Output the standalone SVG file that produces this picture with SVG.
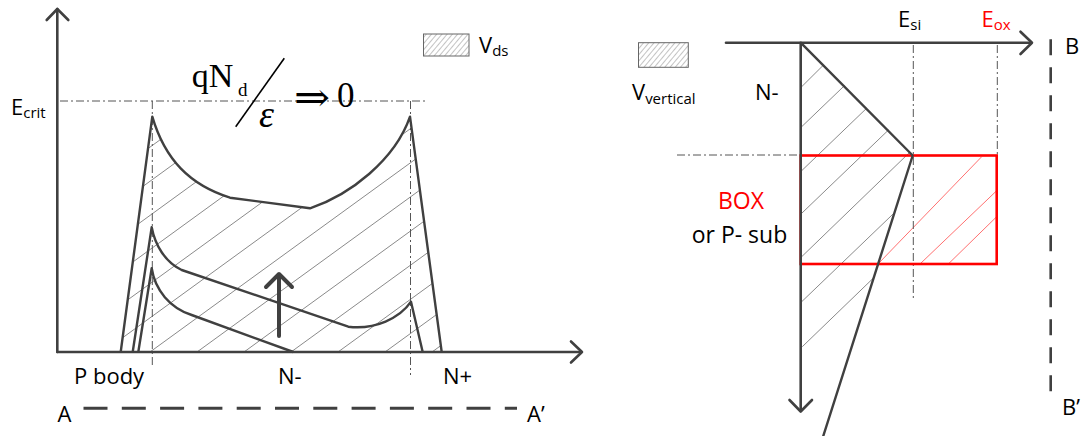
<svg xmlns="http://www.w3.org/2000/svg" width="1084" height="436" viewBox="0 0 1084 436">
<style>
.ax{fill:none;stroke:#404040;stroke-width:2.6;stroke-linecap:round;stroke-linejoin:round}
.cv{fill:none;stroke:#404040;stroke-width:2.4;stroke-linejoin:round}
.dd{fill:none;stroke:#555;stroke-width:1;stroke-dasharray:8 3 2 3}
.ht{stroke:#8a8a8a;stroke-width:1}
.hr{stroke:#ff7070;stroke-width:1}
.t{font-family:"Open Sans","Liberation Sans",sans-serif;fill:#000}
.s{font-size:15px}
.m{font-family:"Liberation Serif","DejaVu Serif",serif;fill:#000}
</style>
<defs>
<pattern id="lg" patternUnits="userSpaceOnUse" width="4" height="4" patternTransform="rotate(40)">
<line x1="0" y1="0" x2="0" y2="4" stroke="#888" stroke-width="1"/>
</pattern>
<clipPath id="clipL">
<path d="M120.7,352 L152.3,116.7 C165,160 190,185 230,197.7 L310,208.3 C350,195 395,160 410,116.7 L441.7,352 Z"/>
</clipPath>
</defs>

<g id="left-panel">
<g id="left-hatch" clip-path="url(#clipL)">
<line class="ht" x1="-179" y1="352" x2="221" y2="61.4"/>
<line class="ht" x1="-132" y1="352" x2="268" y2="61.4"/>
<line class="ht" x1="-85" y1="352" x2="315" y2="61.4"/>
<line class="ht" x1="-38" y1="352" x2="362" y2="61.4"/>
<line class="ht" x1="9" y1="352" x2="409" y2="61.4"/>
<line class="ht" x1="56" y1="352" x2="456" y2="61.4"/>
<line class="ht" x1="103" y1="352" x2="503" y2="61.4"/>
<line class="ht" x1="150" y1="352" x2="550" y2="61.4"/>
<line class="ht" x1="197" y1="352" x2="597" y2="61.4"/>
<line class="ht" x1="244" y1="352" x2="644" y2="61.4"/>
<line class="ht" x1="291" y1="352" x2="691" y2="61.4"/>
<line class="ht" x1="338" y1="352" x2="738" y2="61.4"/>
<line class="ht" x1="385" y1="352" x2="785" y2="61.4"/>
<line class="ht" x1="432" y1="352" x2="832" y2="61.4"/>
</g>
<g id="left-guides">
<line class="dd" x1="60" y1="101" x2="428" y2="101"/>
<line class="dd" x1="152.3" y1="101" x2="152.3" y2="368"/>
<line class="dd" x1="410.5" y1="101" x2="410.5" y2="375"/>
</g>
<g id="left-axes">
<line class="ax" x1="57.3" y1="352" x2="57.3" y2="9"/>
<polyline class="ax" points="46.7,20 57.3,9 68.3,20"/>
<line class="ax" x1="57.3" y1="352" x2="581" y2="352"/>
<polyline class="ax" points="571,341.5 582,352 571,362.5"/>
</g>
<g id="curves">
<path class="cv" d="M120.7,352 L152.3,116.7 C165,160 190,185 230,197.7 L310,208.3 C350,195 395,160 410,116.7 L441.7,352"/>
<path class="cv" d="M132.7,352 L151.7,227.3 C155,245 165,262 181.7,270 L348.3,326.7 C375,330 400,318 411,301.7 L422.7,352"/>
<path class="cv" d="M138.3,352 L151.7,268.3 C155,290 170,308 191.7,315 L293.3,352"/>
</g>
<g id="up-arrow">
<line x1="279" y1="336" x2="279" y2="276" stroke="#404040" stroke-width="4" stroke-linecap="round"/>
<polyline points="266,287 279,274 292,287" fill="none" stroke="#404040" stroke-width="4" stroke-linecap="round" stroke-linejoin="round"/>
</g>
<g id="legend-vds">
<rect x="423.5" y="34" width="45.5" height="22" fill="url(#lg)" stroke="#666" stroke-width="1"/>
<text class="t" x="479" y="53" font-size="22">V<tspan class="s" dy="3">ds</tspan></text>
</g>
<g id="formula">
<text class="m" x="191.7" y="86.7" font-size="34">qN</text>
<text class="m" x="238" y="96" font-size="19">d</text>
<line x1="284.3" y1="58.3" x2="235.7" y2="126.7" stroke="#000" stroke-width="1.6"/>
<text class="m" x="259" y="127" font-size="38" font-style="italic">ε</text>
<text class="m" x="294" y="111" font-size="40" textLength="36" lengthAdjust="spacingAndGlyphs">⇒</text>
<text class="m" x="337" y="106.7" font-size="35">0</text>
</g>
<g id="left-labels">
<text class="t" x="11" y="115" font-size="22">E<tspan class="s" dy="3">crit</tspan></text>
<text class="t" x="74" y="384" font-size="22">P body</text>
<text class="t" x="278" y="384" font-size="22">N-</text>
<text class="t" x="443" y="384" font-size="22">N+</text>
<text class="t" x="57.5" y="421.7" font-size="22">A</text>
<text class="t" x="527" y="421.7" font-size="22">A’</text>
<line x1="83.5" y1="408.3" x2="517" y2="408.3" stroke="#404040" stroke-width="3" stroke-dasharray="24 14.3"/>
</g>
</g>

<g id="right-panel">
<g id="right-hatch">
<line class="ht" x1="801.7" y1="86.7" x2="823" y2="65.5"/>
<line class="ht" x1="801.7" y1="126.7" x2="844.5" y2="85.6"/>
<line class="ht" x1="801.7" y1="170.7" x2="866.9" y2="108"/>
<line class="ht" x1="801.7" y1="213.3" x2="888.6" y2="129.9"/>
<line class="ht" x1="801.7" y1="256.7" x2="909.5" y2="152.5"/>
<line class="ht" x1="801.7" y1="301.7" x2="895.5" y2="211.7"/>
<line class="ht" x1="802.3" y1="346.7" x2="874.8" y2="276.7"/>
<line class="hr" x1="878" y1="264" x2="981.7" y2="156.7"/>
<line class="hr" x1="920" y1="264" x2="996.7" y2="190.7"/>
<line class="hr" x1="948.3" y1="264" x2="996.7" y2="216.7"/>
</g>
<g id="right-guides">
<line class="dd" x1="677" y1="155" x2="800.7" y2="155"/>
<line class="dd" x1="913.3" y1="45" x2="913.3" y2="300"/>
<line class="dd" x1="997.3" y1="45" x2="997.3" y2="155"/>
</g>
<g id="box-rect">
<rect x="800.7" y="155.5" width="196" height="108.5" fill="none" stroke="#ff0000" stroke-width="2.6"/>
</g>
<g id="right-axes">
<line class="ax" x1="726" y1="42.7" x2="1031" y2="42.7"/>
<polyline class="ax" points="1020.5,31.7 1032,42.7 1020.5,54"/>
<line class="ax" x1="800.7" y1="42.7" x2="800.7" y2="410.5"/>
<polyline class="ax" points="789.5,400 800.7,411.5 812,400"/>
</g>
<g id="field-lines">
<polyline class="cv" points="800.7,42.7 912.7,155.5 822,440"/>
</g>
<g id="legend-vvert">
<rect x="638.5" y="42.7" width="49.8" height="24.6" fill="url(#lg)" stroke="#666" stroke-width="1"/>
<text class="t" x="632" y="100" font-size="22">V<tspan class="s" dy="4">vertical</tspan></text>
</g>
<g id="right-labels">
<text class="t" x="898" y="27" font-size="22">E<tspan class="s" dy="3">si</tspan></text>
<text class="t" x="981.5" y="27" font-size="22" style="fill:#ff0000">E<tspan class="s" dy="3">ox</tspan></text>
<text class="t" x="755" y="100" font-size="22">N-</text>
<text class="t" x="718" y="209.3" font-size="23" style="fill:#ff0000">BOX</text>
<text class="t" x="691.7" y="242.7" font-size="23">or P- sub</text>
<text class="t" x="1065" y="54" font-size="22">B</text>
<text class="t" x="1062" y="415" font-size="22">B’</text>
<line x1="1050.7" y1="39.3" x2="1050.7" y2="400" stroke="#404040" stroke-width="2.6" stroke-dasharray="16 12"/>
</g>
</g>
</svg>
